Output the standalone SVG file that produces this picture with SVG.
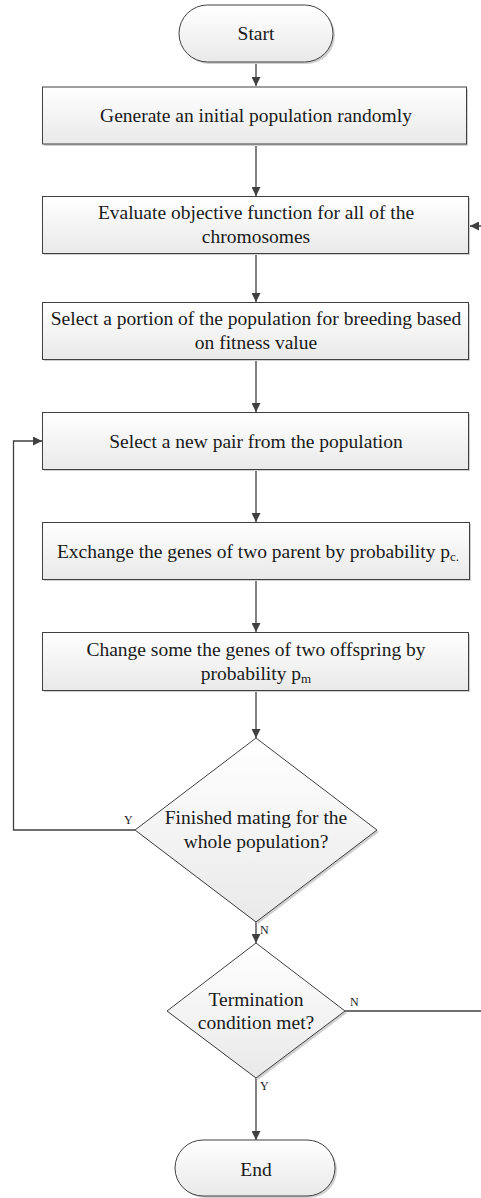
<svg xmlns="http://www.w3.org/2000/svg" width="481" height="1198" viewBox="0 0 481 1198">
  <style>
    .shape { fill: url(#fillGrad); stroke: #404040; stroke-width: 1; }
    .shadow { fill: #d0d0d0; stroke: none; }
    .label { font-family: "Liberation Serif", "Times New Roman", serif; font-size: 19.5px; fill: #1a1a1a; text-anchor: middle; }
    .sub { font-size: 13px; }
    .small { font-family: "Liberation Serif", "Times New Roman", serif; font-size: 12px; fill: #1a1a1a; }
    .edge { fill: none; stroke: #404040; stroke-width: 1.3; }
  </style>
  <defs>
    <linearGradient id="fillGrad" x1="0" y1="0" x2="0" y2="1">
      <stop offset="0" stop-color="#ffffff"/>
      <stop offset="1" stop-color="#e9e9e9"/>
    </linearGradient>
    <marker id="arrow" viewBox="0 0 10 10" refX="10" refY="5" markerWidth="9" markerHeight="9" markerUnits="userSpaceOnUse" orient="auto">
      <path d="M0,0 L10,5 L0,10 Z" fill="#404040"/>
    </marker>
  </defs>

  <!-- connectors -->
  <g id="connectors">
    <line class="edge" x1="256" y1="62" x2="256" y2="86" marker-end="url(#arrow)"/>
    <line class="edge" x1="256" y1="144" x2="256" y2="196" marker-end="url(#arrow)"/>
    <line class="edge" x1="256" y1="254" x2="256" y2="302" marker-end="url(#arrow)"/>
    <line class="edge" x1="256" y1="360" x2="256" y2="412" marker-end="url(#arrow)"/>
    <line class="edge" x1="256" y1="470" x2="256" y2="522" marker-end="url(#arrow)"/>
    <line class="edge" x1="256" y1="580" x2="256" y2="632" marker-end="url(#arrow)"/>
    <line class="edge" x1="256" y1="691" x2="256" y2="738" marker-end="url(#arrow)"/>
    <line class="edge" x1="256" y1="922" x2="256" y2="943" marker-end="url(#arrow)"/>
    <line class="edge" x1="256" y1="1078" x2="256" y2="1140" marker-end="url(#arrow)"/>
    <!-- Y loop back to pair selection -->
    <polyline class="edge" points="135,830 13.5,830 13.5,441 42,441" marker-end="url(#arrow)"/>
    <!-- N loop back to evaluation (runs past the right edge) -->
    <polyline class="edge" points="345,1011 483,1011 483,226 470,226" marker-end="url(#arrow)"/>
    <text class="small" x="124" y="824">Y</text>
    <text class="small" x="260" y="934">N</text>
    <text class="small" x="350" y="1006">N</text>
    <text class="small" x="260" y="1090">Y</text>
  </g>

  <g id="start">
    <rect class="shadow" x="181" y="7" width="154" height="57" rx="28.5"/>
    <rect class="shape" x="179" y="5" width="154" height="57" rx="28.5"/>
    <text class="label" x="256" y="40">Start</text>
  </g>

  <g id="generate">
    <rect class="shadow" x="44" y="89" width="424" height="57"/>
    <rect class="shape" x="42.5" y="87" width="424" height="57"/>
    <text class="label" x="256" y="122">Generate an initial population randomly</text>
  </g>

  <g id="evaluate">
    <rect class="shadow" x="44" y="198" width="426" height="57"/>
    <rect class="shape" x="42.5" y="196.5" width="426" height="57"/>
    <text class="label" x="256" y="219">Evaluate objective function for all of the</text>
    <text class="label" x="256" y="243">chromosomes</text>
  </g>

  <g id="select-portion">
    <rect class="shadow" x="44" y="304" width="426" height="57"/>
    <rect class="shape" x="42.5" y="302.5" width="426" height="57"/>
    <text class="label" x="256" y="325">Select a portion of the population for breeding based</text>
    <text class="label" x="256" y="349">on fitness value</text>
  </g>

  <g id="select-pair">
    <rect class="shadow" x="44" y="414" width="426" height="57"/>
    <rect class="shape" x="42.5" y="412.5" width="426" height="57"/>
    <text class="label" x="256" y="448">Select a new pair from the population</text>
  </g>

  <g id="crossover">
    <rect class="shadow" x="44" y="524" width="427" height="57"/>
    <rect class="shape" x="42.5" y="522.5" width="427" height="57"/>
    <text class="label" x="258" y="558">Exchange the genes of two parent by probability p<tspan class="sub" dy="3">c.</tspan></text>
  </g>

  <g id="mutation">
    <rect class="shadow" x="44" y="634" width="426" height="58"/>
    <rect class="shape" x="42.5" y="632.5" width="426" height="58"/>
    <text class="label" x="256" y="656">Change some the genes of two offspring by</text>
    <text class="label" x="256" y="680">probability p<tspan class="sub" dy="3">m</tspan></text>
  </g>

  <g id="mating-done">
    <polygon class="shadow" points="258,740 379,832 258,924 137,832"/>
    <polygon class="shape" points="256,738 377,830 256,922 135,830"/>
    <text class="label" x="256" y="824">Finished mating for the</text>
    <text class="label" x="256" y="848">whole population?</text>
  </g>

  <g id="termination">
    <polygon class="shadow" points="258,945 347,1013 258,1080 169,1013"/>
    <polygon class="shape" points="256,943 345,1011 256,1078 167,1011"/>
    <text class="label" x="256" y="1006">Termination</text>
    <text class="label" x="256" y="1029">condition met?</text>
  </g>

  <g id="end">
    <rect class="shadow" x="177" y="1142" width="160" height="56" rx="28"/>
    <rect class="shape" x="175" y="1140" width="160" height="56" rx="28"/>
    <text class="label" x="256" y="1176">End</text>
  </g>
</svg>
